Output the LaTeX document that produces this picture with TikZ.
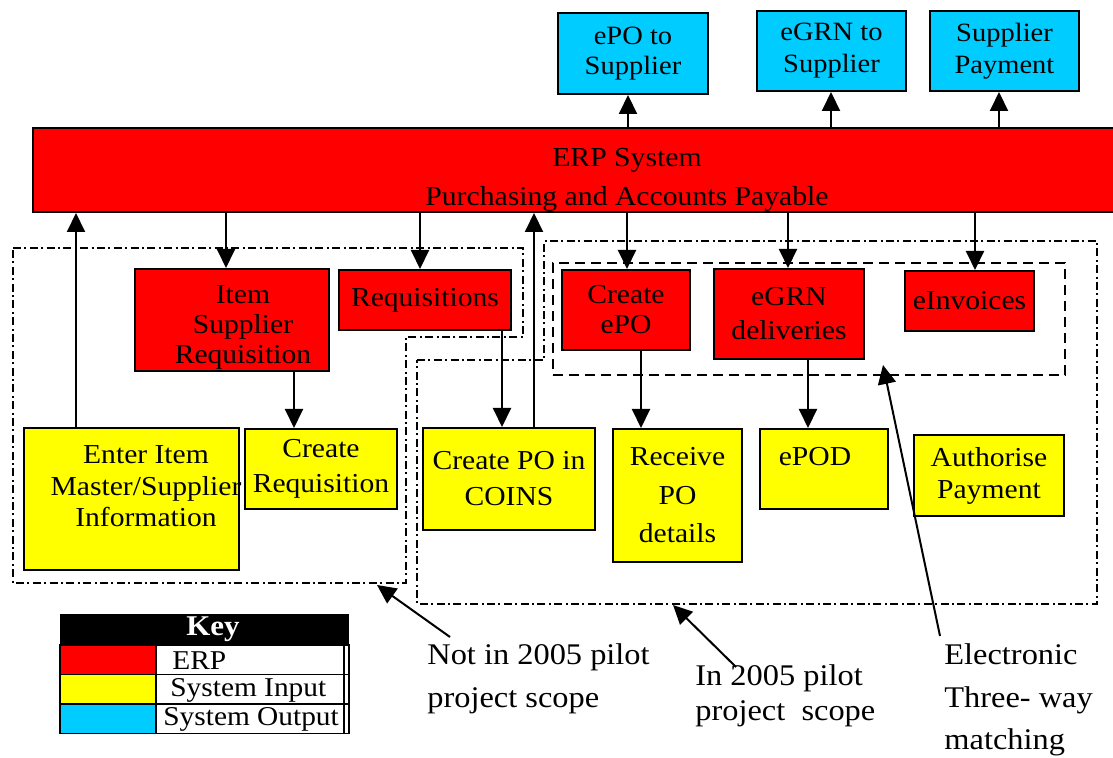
\documentclass[tikz,border=0pt]{standalone}
\usepackage{fontspec}
\setmainfont[FakeStretch=1.08]{Liberation Serif}
\usetikzlibrary{positioning,arrows.meta}
\definecolor{erpred}{RGB}{255,0,0}
\definecolor{inyellow}{RGB}{255,255,0}
\definecolor{outcyan}{RGB}{0,204,255}
\newcommand{\boxfont}[1]{\fontsize{13.7}{#1}\selectfont}
\tikzset{box/.style={draw,line width=1pt,align=center,inner sep=0pt,font=\boxfont{15}},
         erpbox/.style={box,fill=erpred},
         inbox/.style={box,fill=inyellow},
         outbox/.style={box,fill=outcyan,font=\fontsize{13.2}{15}\selectfont},
         line/.style={-{Triangle[length=9.5pt,width=9pt]},line width=1pt},
         scopeline/.style={line width=0.8pt,dash pattern=on 4pt off 1.7pt on 1pt off 1.7pt},
         matchbox/.style={draw,line width=1.3pt,dash pattern=on 5pt off 3pt},
         note/.style={anchor=west,align=left,inner sep=0pt,font=\fontsize{15}{21.5}\selectfont},
         keycell/.style={draw,line width=0.8pt,inner sep=0pt,minimum height=14.75pt},
         keytext/.style={anchor=west,inner sep=0pt,font=\fontsize{13.6}{15}\selectfont}
     }
\begin{document}
\begin{tikzpicture}[x=0.5pt,y=-0.5pt]
\useasboundingbox (0,0) rectangle (1113,758);
\clip (0,0) rectangle (1113,758);
% system outputs
\node[outbox,minimum width=75pt,minimum height=40.5pt] (epo) at (633,53.5) {ePO to\\Supplier};
\node[outbox,minimum width=74.5pt,minimum height=40pt,font=\fontsize{13.2}{16}\selectfont] (egrn) at (831.5,51) {eGRN to\\Supplier};
\node[outbox,minimum width=74.5pt,minimum height=40pt,font=\fontsize{13.2}{16}\selectfont] (spay) at (1004.5,51) {Supplier\\Payment};
% ERP bar
\node[erpbox,minimum width=594pt,minimum height=42pt] (erp) at (627,170) {};
\node[align=center,inner sep=0pt,font=\fontsize{13.75}{19.5}\selectfont] (erptxt) at (627,180) {ERP System\\Purchasing and Accounts Payable};
% scope outlines
\draw[scopeline] (13,248) -- (523,248) -- (523,337) -- (406,337) -- (406,583) -- (13,583) -- cycle;
\draw[scopeline] (417,360) -- (544,360) -- (544,241) -- (1097,241) -- (1097,604) -- (417,604) -- cycle;
\node[matchbox,minimum width=256pt,minimum height=56pt] (ematch) at (809,319) {};
% ERP steps
\node[erpbox,minimum width=97pt,minimum height=51pt] (isr) at (232,320) {};
\node[align=center,inner sep=0pt,font=\boxfont{15}] (isrtxt) at (243,327) {Item\\Supplier\\Requisition};
\node[erpbox,minimum width=86pt,minimum height=30pt] (req) at (425,300) {Requisitions};
\node[erpbox,minimum width=64pt,minimum height=40pt] (cepo) at (626,310) {Create\\ePO};
\node[erpbox,minimum width=75pt,minimum height=45pt,font=\boxfont{17}] (egrnd) at (789,314) {eGRN\\deliveries};
\node[erpbox,minimum width=64.5pt,minimum height=30pt] (einv) at (969.5,301) {eInvoices};
% system inputs
\node[inbox,minimum width=107.5pt,minimum height=71pt] (enter) at (131.5,499) {};
\node[align=center,inner sep=0pt,font=\boxfont{15.75}] (entertxt) at (146,486.5) {Enter Item\\Master/Supplier\\Information};
\node[inbox,minimum width=76pt,minimum height=40pt,font=\boxfont{17.5}] (creq) at (321,469) {Create\\Requisition};
\node[inbox,minimum width=86pt,minimum height=51pt,font=\boxfont{18}] (cpo) at (509,479) {Create PO in\\COINS};
\node[inbox,minimum width=64.5pt,minimum height=66.5pt,font=\boxfont{19.25}] (rpo) at (677.5,495.5) {Receive\\PO\\details};
\node[inbox,minimum width=64pt,minimum height=40pt] (epod) at (824,469) {};
\node[inner sep=0pt,font=\boxfont{15}] (epodtxt) at (815,457) {ePOD};
\node[inbox,minimum width=75pt,minimum height=40.5pt,font=\boxfont{16}] (auth) at (989,475.5) {Authorise\\Payment};
% flows
\draw[line] (628,0 |- erp.north) -- (628,0 |- epo.south);
\draw[line] (831,0 |- erp.north) -- (831,0 |- egrn.south);
\draw[line] (999,0 |- erp.north) -- (999,0 |- spay.south);
\draw[line] (226,0 |- erp.south) -- (226,0 |- isr.north);
\draw[line] (420,0 |- erp.south) -- (420,0 |- req.north);
\draw[line] (627,0 |- erp.south) -- (627,0 |- cepo.north);
\draw[line] (788,0 |- erp.south) -- (788,0 |- egrnd.north);
\draw[line] (975,0 |- erp.south) -- (975,0 |- einv.north);
\draw[line] (76,0 |- enter.north) -- (76,0 |- erp.south);
\draw[line] (534,0 |- cpo.north) -- (534,0 |- erp.south);
\draw[line] (294,0 |- isr.south) -- (294,0 |- creq.north);
\draw[line] (502,0 |- req.south) -- (502,0 |- cpo.north);
\draw[line] (641,0 |- cepo.south) -- (641,0 |- rpo.north);
\draw[line] (808,0 |- egrnd.south) -- (808,0 |- epod.north);
% notes
\node[note] (notin) at (427,678.5) {Not in 2005 pilot\\project scope};
\node[note,font=\fontsize{15}{17.5}\selectfont] (inpilot) at (695,696) {In 2005 pilot\\project\ \ scope};
\node[note,font=\fontsize{15}{21.25}\selectfont] (match) at (944,700) {Electronic\\Three- way\\matching};
\coordinate (notintail) at (450,637);
\coordinate (notintip) at (377,585);
\coordinate (inpilottail) at (736,667);
\coordinate (inpilottip) at (673,605);
\coordinate (matchtail) at (940,636);
\coordinate (matchtip) at (883,365);
\draw[line] (notintail) -- (notintip);
\draw[line] (inpilottail) -- (inpilottip);
\draw[line] (matchtail) -- (matchtip);
% key
\node[fill=black,minimum width=144.5pt,minimum height=15.5pt,inner sep=0pt] (keyhead) at (204.5,629.5) {};
\node[text=white,inner sep=0pt,font=\fontsize{14.3}{15}\selectfont\bfseries] (keyheadtxt) at (213,629.5) {Key};
\node[keycell,fill=erpred,minimum width=48pt] (keyerp) at (108,659.75) {};
\node[keycell,minimum width=94pt] (keyerpcell) at (250,659.75) {};
\node[keycell,minimum width=2.5pt] (keyerpend) at (346.5,659.75) {};
\node[keytext] (keyerptxt) at (172,660.5) {ERP};
\node[keycell,fill=inyellow,minimum width=48pt] (keyin) at (108,689.25) {};
\node[keycell,minimum width=94pt] (keyincell) at (250,689.25) {};
\node[keycell,minimum width=2.5pt] (keyinend) at (346.5,689.25) {};
\node[keytext] (keyintxt) at (170,690) {System Input};
\node[keycell,fill=outcyan,minimum width=48pt] (keyout) at (108,718.75) {};
\node[keycell,minimum width=94pt] (keyoutcell) at (250,718.75) {};
\node[keycell,minimum width=2.5pt] (keyoutend) at (346.5,718.75) {};
\node[keytext] (keyouttxt) at (163,719.5) {System Output};
\end{tikzpicture}
\end{document}
